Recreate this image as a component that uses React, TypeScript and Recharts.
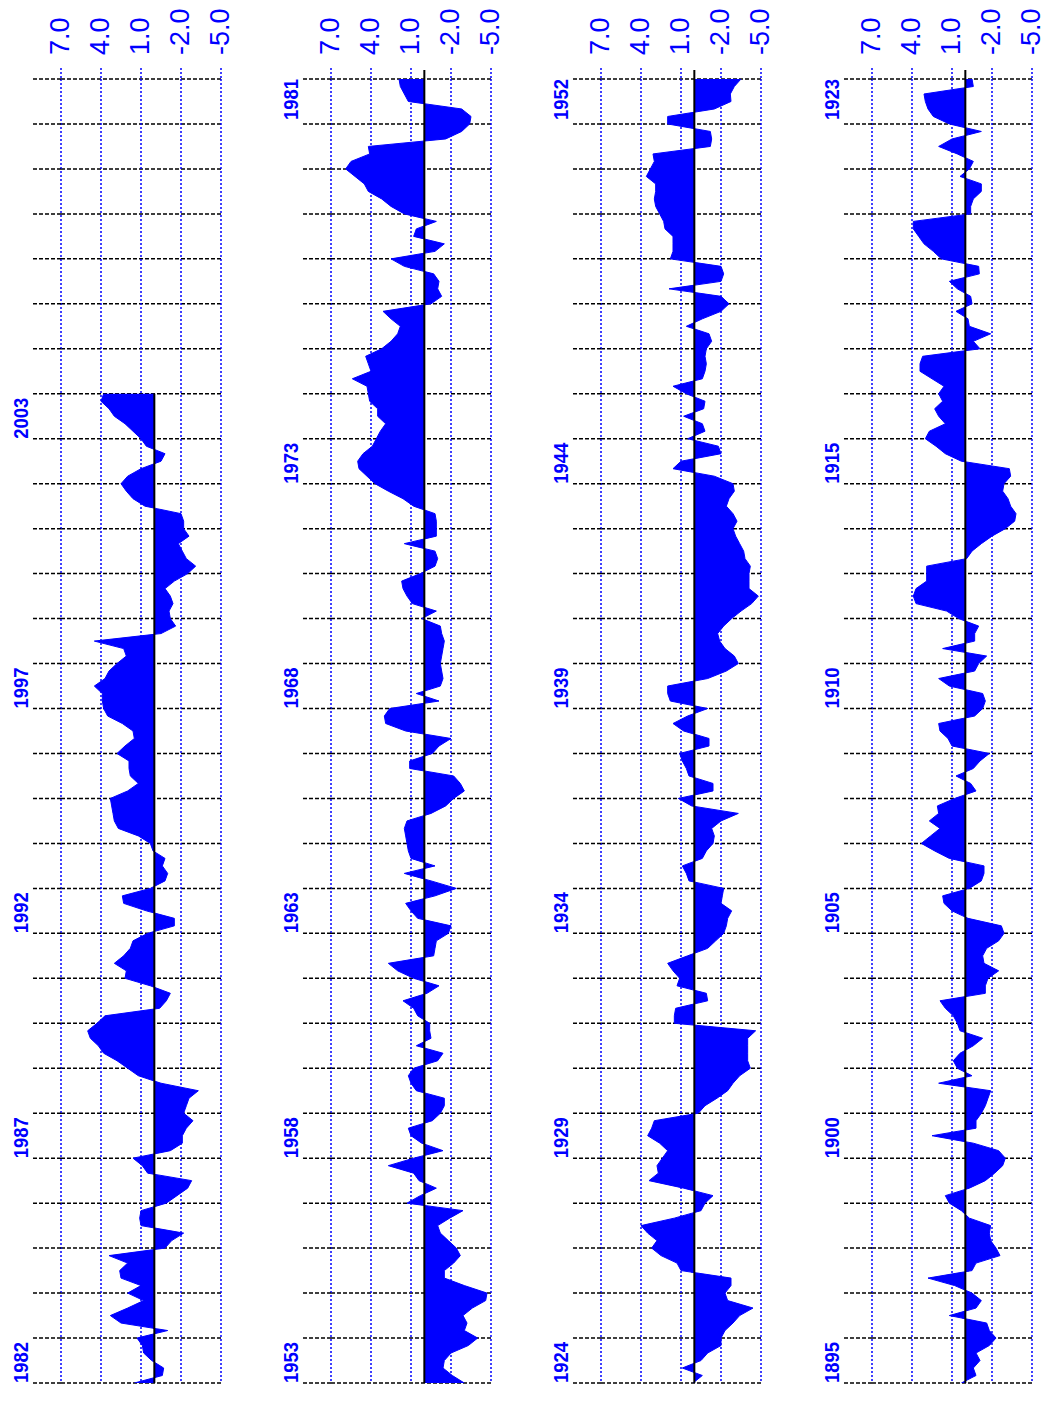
import React from 'react';
import { AreaChart, Area, XAxis, YAxis, CartesianGrid, ReferenceLine } from 'recharts';

const BLUE = '#0000ff';
const FONT = '"Liberation Sans", Arial, Helvetica, sans-serif';

const YEARS_PER_PANEL = 29;
const SAMPLES_PER_YEAR = 6; // one value every two months
const VALUE_TICKS = [7, 4, 1, -2, -5];

const PANEL_START_YEARS = [1982, 1953, 1924, 1895];

const P1_LABELS = [1982, 1987, 1992, 1997, 2003];
const P2_LABELS = [1953, 1958, 1963, 1968, 1973, 1981];
const P3_LABELS = [1924, 1929, 1934, 1939, 1944, 1952];
const P4_LABELS = [1895, 1900, 1905, 1910, 1915, 1923];

const P1_VALUES = [
  1.5, -0.6, -0.7, 0.2, 0.8, 0.9, 1.3, -1.0, 2.5, 3.3,
  2.0, 0.8, 2.0, 1.0, 2.5, 2.6, 2.0, 3.4, -0.8, -1.3,
  -2.2, 1.0, 1.1, 1.0, -0.9, -1.7, -2.5, -2.8, 0.5, 0.9,
  1.6, -1.2, -2.1, -2.1, -2.4, -2.9, -2.2, -2.4, -2.6, -3.3,
  -0.5, 1.2, 2.0, 2.8, 3.8, 4.2, 4.8, 5.0, 4.3, 3.7,
  -0.4, -0.9, -1.2, 0.3, 2.2, 2.1, 3.0, 2.3, 1.8, 1.6,
  0.5, -1.5, -1.5, 0.6, 2.3, 2.4, 0.3, -0.8, -1.0, -0.6,
  -0.8, 0.1, 0.3, 1.2, 2.7, 3.0, 3.1, 3.2, 3.3, 2.0,
  1.2, 1.8, 1.9, 1.9, 2.8, 2.2, 1.5, 1.6, 2.4, 3.5,
  3.8, 3.9, 3.9, 4.5, 3.7, 3.4, 2.8, 2.1, 2.3, 4.5,
  -0.5, -1.6, -1.2, -1.1, -1.4, -1.2, -0.8, -1.5, -2.5, -3.1,
  -2.4, -2.1, -1.8, -2.6, -2.2, -2.2, -2.0, 0.7, 1.6, 2.1,
  2.5, 2.0, 1.0, -0.5, -0.8, 0.6, 1.0, 1.6, 2.2, 3.0,
  3.4, 4.0, 3.8,
];

const P2_VALUES = [
  -3.0, -2.1, -1.4, -1.5, -2.0, -3.3, -4.0, -3.0, -3.2, -2.9,
  -3.6, -4.6, -4.7, -3.0, -1.5, -1.5, -2.2, -2.7, -2.4, -1.8,
  -1.2, -1.0, -1.9, -2.9, 1.3, 0.3, -0.9, 0.4, 0.8, 2.7,
  0.8, -1.4, 0.2, 1.0, 1.2, -0.6, -1.2, -1.5, -1.5, 0.6,
  1.0, 1.2, 0.8, -1.0, -1.4, 0.6, -0.5, -0.4, -0.4, 0.5,
  0.8, 1.6, -0.2, -1.1, 0.8, 2.0, 2.7, -0.7, -0.8, -0.9,
  -1.8, -2.0, 0.5, 1.0, 1.4, -0.8, -2.4, -0.5, 1.5, -0.8,
  1.0, 1.2, 1.3, 1.4, 1.5, 1.3, -0.5, -1.6, -2.2, -3.0,
  -2.7, -2.2, 1.1, 1.1, -0.6, -1.1, -2.0, 1.4, 2.9, 3.0,
  2.6, -1.1, 0.6, -1.2, -1.4, -1.3, -1.2, -1.3, -1.4, -1.5,
  -1.3, -1.2, 0.2, -0.9, 0.9, 1.3, 1.6, 1.7, 0.3, -0.8,
  -1.0, -0.8, 1.5, -0.9, -0.9, -0.9, -0.8, 0.8, 1.6, 2.7,
  3.7, 4.3, 4.9, 5.0, 4.6, 3.9, 3.6, 3.3, 2.9, 3.5,
  3.5, 4.1, 4.2, 4.3, 5.4, 4.0, 4.2, 4.4, 3.2, 2.5,
  2.0, 1.8, 2.5, 3.1, -0.5, -1.3, -1.0, -1.1, -0.7, 1.5,
  2.5, -0.8, -1.5, 0.8, 0.6, -0.9, 1.5, 2.5, 3.2, 4.2,
  4.5, 5.2, 5.9, 5.5, 4.1, 4.2, -1.6, -2.8, -3.4, -3.5,
  -2.8, 1.2, 1.5, 1.8, 1.9,
];

const P3_VALUES = [
  0.1, -0.6, 0.9, -0.5, -1.0, -2.0, -2.0, -2.3, -2.9, -3.4,
  -4.4, -2.5, -2.3, -2.75, -2.75, 1.0, 1.3, 2.5, 3.2, 2.8,
  3.5, 4.0, 1.5, -0.5, -0.8, -1.4, 0.8, 3.4, 2.7, 2.8,
  2.4, 2.0, 2.6, 3.5, 3.2, 3.0, -0.3, -0.8, -1.7, -2.5,
  -2.9, -3.4, -4.2, -4.0, -4.0, -4.0, -4.0, -4.6, 1.5, 1.5,
  1.4, -1.0, -0.9, 1.3, 1.1, 1.6, 2.0, 0.5, -1.0, -1.6,
  -2.2, -2.4, -2.5, -2.8, -2.0, -2.1, -2.2, 0.4, 0.6, 0.9,
  -0.6, -0.9, -1.4, -1.5, -1.3, -2.0, -3.3, 0.2, 1.2, -1.4,
  -1.4, 0.4, 0.6, 0.9, 1.1, -1.1, -1.1, 0.8, 1.6, 0.5,
  -1.0, 1.8, 2.0, 2.0, -1.0, -2.4, -3.3, -3.0, -2.3, -1.9,
  -1.75, -2.2, -2.8, -3.5, -4.3, -4.8, -4.1, -4.1, -4.1, -4.2,
  -3.8, -3.7, -3.4, -3.1, -2.9, -3.2, -2.9, -2.4, -2.6, -3.0,
  -2.9, -1.5, 1.6, 1.0, -2.0, -1.8, 0.5, -0.8, -0.6, 0.8,
  -0.7, -0.8, 0.6, 1.6, -0.6, -0.8, -0.9, -0.8, -0.9, -1.3,
  -1.1, 0.6, -0.6, -2.0, -2.6, -2.0, 1.9, -2.0, -2.2, -2.0,
  1.8, 1.6, 1.6, 1.6, 2.2, 2.3, 2.6, 2.9, 3.0, 2.9,
  2.9, 3.6, 3.3, 3.0, 3.1, -1.2, -1.3, -1.2, 2.0, 2.0,
  -1.5, -2.75, -2.7, -3.0, -3.5,
];

const P4_VALUES = [
  0.3, -0.8, -0.6, -1.1, -0.8, -1.8, -2.3, -1.8, -1.6, 1.2,
  -0.8, -1.2, -0.5, 0.8, 2.8, -0.5, -0.8, -2.6, -2.3, -1.9,
  -1.8, -1.9, -0.3, 0.3, 1.2, 1.5, -0.3, -1.5, -2.2, -2.8,
  -3.0, -2.5, -0.6, 2.5, -0.8, -0.8, -1.2, -1.5, -1.7, -1.9,
  2.0, -0.5, 0.6, 0.9, 0.4, -0.6, -1.3, 0.4, 0.6, 0.9,
  1.5, 1.9, -1.5, -1.5, -1.7, -2.5, -1.4, -1.3, -1.6, -2.5,
  -2.9, -2.7, -0.2, 1.0, 1.6, 1.7, -0.3, -1.2, -1.4, -1.4,
  1.2, 2.3, 3.3, 2.6, 1.9, 2.7, 2.0, 2.1, 0.8, -0.8,
  -0.4, 0.7, -0.6, -1.1, -1.8, 1.0, 1.3, 1.9, 2.0, -0.7,
  -1.3, -1.5, -1.3, 1.2, 2.0, -0.7, -1.0, -1.6, 1.7, -0.7,
  -0.7, -1.0, 0.5, 1.4, 3.7, 3.9, 3.7, 2.9, 2.9, 2.9,
  -0.1, -0.5, -1.2, -2.0, -3.0, -3.7, -3.8, -3.4, -3.2, -2.8,
  -2.9, -3.4, -3.3, 0.3, 1.5, 2.2, 3.0, 2.7, 1.5, 2.0,
  2.3, 1.7, 2.0, 1.6, 2.5, 3.4, 3.4, 3.2, -1.1, -0.6,
  -1.9, -0.3, -0.2, 0.7, -0.5, -0.4, 0.6, 1.2, -1.05, -1.0,
  1.8, 2.4, 3.1, 3.5, 3.9, 3.9, -0.4, -0.4, -0.6, -1.2,
  -1.2, 0.4, -0.3, -0.6, 0.6, 2.0, 1.0, -1.2, 1.2, 2.4,
  2.8, 3.0, 3.1, -0.6, -0.5,
];

const PANEL_VALUES = [P1_VALUES, P2_VALUES, P3_VALUES, P4_VALUES];
const PANEL_LABELS = [P1_LABELS, P2_LABELS, P3_LABELS, P4_LABELS];
const PANEL_LEFTS = [0, 270, 540, 811];

function buildRows(start: number, values: number[]) {
  return values.map((v, i) => ({ t: start + i / SAMPLES_PER_YEAR, v }));
}

function renderValueTick(props: any) {
  const { x, y, payload } = props;
  const bx = x + 8;
  return (
    <text
      x={bx}
      y={y}
      transform={`rotate(-90 ${bx} ${y})`}
      textAnchor="start"
      fill={BLUE}
      fontFamily={FONT}
      fontSize={27}
    >
      {Number(payload.value).toFixed(1)}
    </text>
  );
}

function Panel({ start, values, labels }: { start: number; values: number[]; labels: number[] }) {
  const rows = buildRows(start, values);
  const top = start + YEARS_PER_PANEL;
  const yearTicks: number[] = [];
  for (let yr = start; yr <= top; yr++) yearTicks.push(yr);
  const lastT = rows[rows.length - 1].t;
  const lineEnd = lastT >= top ? top + 0.2 : lastT;

  const renderYearTick = (props: any) => {
    const { x, y, payload } = props;
    const v = payload.value;
    let text: string | null = null;
    let anchor = 'start';
    if (labels.includes(v) && v !== top - 1) {
      text = String(v);
    } else if (v === top && labels.includes(top - 1)) {
      text = String(top - 1);
      anchor = 'end';
    }
    if (!text) return <g />;
    const bx = x - 3;
    return (
      <text
        x={bx}
        y={y}
        transform={`rotate(-90 ${bx} ${y})`}
        textAnchor={anchor}
        fill={BLUE}
        fontFamily={FONT}
        fontWeight="bold"
        fontSize={21}
        textLength={41}
        lengthAdjust="spacingAndGlyphs"
      >
        {text}
      </text>
    );
  };

  return (
    <AreaChart
      width={270}
      height={1404}
      data={rows}
      layout="vertical"
      margin={{ top: 0, right: 49, bottom: 0, left: 0 }}
    >
      <CartesianGrid horizontal vertical={false} stroke="#000000" strokeDasharray="4 2" strokeWidth={1.5} />
      <CartesianGrid horizontal={false} vertical stroke={BLUE} strokeDasharray="2 2" strokeWidth={1.5} />
      <XAxis
        type="number"
        domain={[-5, 7]}
        ticks={VALUE_TICKS}
        interval={0}
        reversed
        allowDataOverflow
        orientation="top"
        height={79}
        tickSize={11}
        tickMargin={13}
        axisLine={false}
        tickLine={{ stroke: BLUE, strokeDasharray: '2 2', strokeWidth: 1.5 }}
        tick={renderValueTick}
      />
      <XAxis
        xAxisId="b"
        type="number"
        domain={[-5, 7]}
        ticks={VALUE_TICKS}
        interval={0}
        reversed
        allowDataOverflow
        orientation="bottom"
        height={21}
        tickSize={7}
        axisLine={false}
        tickLine={{ stroke: BLUE, strokeDasharray: '2 2', strokeWidth: 1.5 }}
        tick={false}
      />
      <YAxis
        type="number"
        dataKey="t"
        domain={[start, top]}
        ticks={yearTicks}
        interval={0}
        reversed
        allowDataOverflow
        width={61}
        tickSize={28}
        tickMargin={2}
        axisLine={false}
        tickLine={{ stroke: '#000000', strokeDasharray: '4 2', strokeWidth: 1.5 }}
        tick={renderYearTick}
      />
      <Area
        type="linear"
        dataKey="v"
        baseValue={0}
        fill={BLUE}
        fillOpacity={1}
        stroke={BLUE}
        strokeWidth={1}
        dot={false}
        activeDot={false}
        isAnimationActive={false}
      />
      <ReferenceLine
        segment={[{ x: 0, y: start }, { x: 0, y: lineEnd }]}
        stroke="#000000"
        strokeWidth={2}
        ifOverflow="visible"
      />
    </AreaChart>
  );
}

export default function App() {
  return (
    <div style={{ position: 'absolute', left: 0, top: 0, width: 1046, height: 1404, background: '#ffffff' }}>
      {PANEL_START_YEARS.map((start, i) => (
        <div key={start} style={{ position: 'absolute', left: PANEL_LEFTS[i], top: 0 }}>
          <Panel start={start} values={PANEL_VALUES[i]} labels={PANEL_LABELS[i]} />
        </div>
      ))}
    </div>
  );
}
